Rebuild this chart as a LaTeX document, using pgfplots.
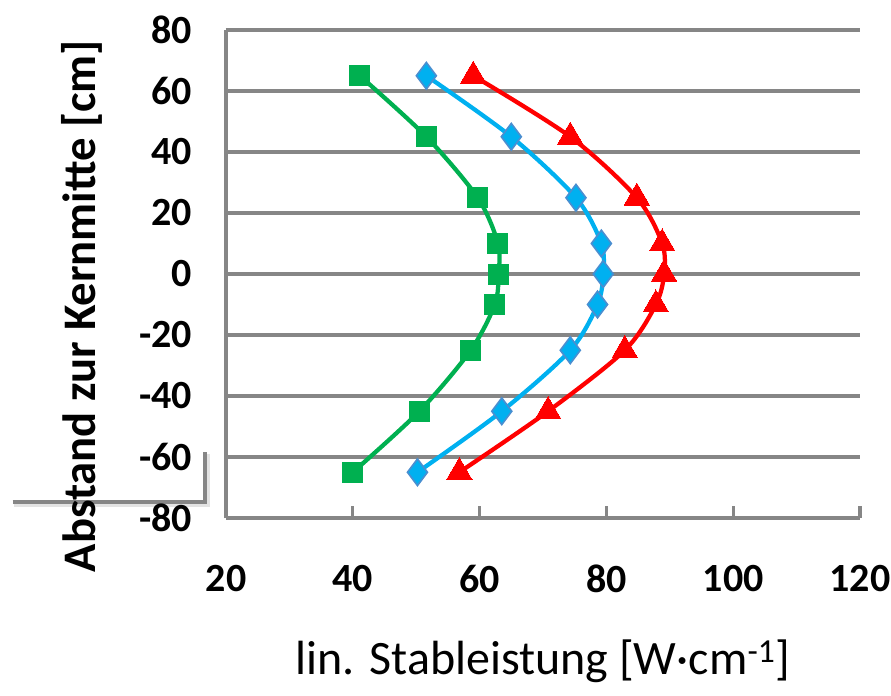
\documentclass[border=0pt]{standalone}
\usepackage{pgfplots}
\pgfplotsset{compat=1.18}
\usepackage{fontspec}
\setmainfont{Carlito}
\definecolor{gridgray}{HTML}{868686}
\definecolor{sgreen}{HTML}{00B050}
\definecolor{sblue}{HTML}{00B0F0}
\definecolor{sblueedge}{HTML}{4A8ED0}
\definecolor{sred}{HTML}{FF0000}
\begin{document}
\begin{tikzpicture}
\useasboundingbox (-169.5pt,-132.75pt) rectangle (498.75pt,388.5pt);
% shadowed corner line left of the axis
\draw[gray!22, line width=3pt] (-159pt,10pt) -- (-13.5pt,10pt) -- (-13.5pt,48pt);
\draw[gridgray, line width=2.6pt] (-160pt,12pt) -- (-15.75pt,12pt) -- (-15.75pt,49.5pt);
\begin{axis}[
  at={(0,0)}, anchor=south west,
  scale only axis,
  width=475.5pt, height=366pt,
  xmin=20, xmax=120, ymin=-80, ymax=80,
  xtick={20,40,...,120}, ytick={-80,-60,...,80},
  axis x line*=bottom, axis y line*=left,
  axis line style={gridgray, line width=2.4pt, -},
  tick style={gridgray, line width=2.4pt},
  major tick length=9pt,
  tick align=inside,
  ymajorgrids, grid style={gridgray, line width=2.4pt},
  /pgf/number format/assume math mode=true,
  ticklabel style={font=\fontsize{30}{32}\selectfont\bfseries},
  yticklabel style={xshift=-22pt},
  xticklabel style={yshift=-32pt},
  xlabel={lin. Stableistung [W·cm\textsuperscript{-1}]},
  xlabel style={font=\fontsize{36}{38}\selectfont, yshift=-28pt},
  ylabel={Abstand zur Kernmitte [cm]},
  ylabel style={font=\fontsize{35}{37}\selectfont\bfseries, yshift=21pt, xshift=-24pt},
  clip=false,
  every axis plot/.append style={line width=3.2pt, smooth, tension=0.5},
]
\addplot[sgreen, mark=square*, mark size=7.5pt, mark options={sgreen, line width=0pt}]
  coordinates {(41.1,65) (51.6,45) (59.7,25) (62.9,10) (63.0,0) (62.4,-10) (58.6,-25) (50.5,-45) (40.0,-65)};
\addplot[sblue, mark=diamond*, mark size=10pt, mark options={draw=sblueedge, fill=sblue, line width=1.2pt}]
  coordinates {(51.6,65) (65.0,45) (75.2,25) (79.2,10) (79.5,0) (78.6,-10) (74.3,-25) (63.5,-45) (50.2,-65)};
\addplot[sred, mark=triangle*, mark size=11pt, mark options={sred, line width=0pt}]
  coordinates {(59.0,65) (74.3,45) (84.8,25) (88.8,10) (89.1,0) (87.8,-10) (82.9,-25) (70.8,-45) (56.8,-65)};
\end{axis}
\end{tikzpicture}
\end{document}
